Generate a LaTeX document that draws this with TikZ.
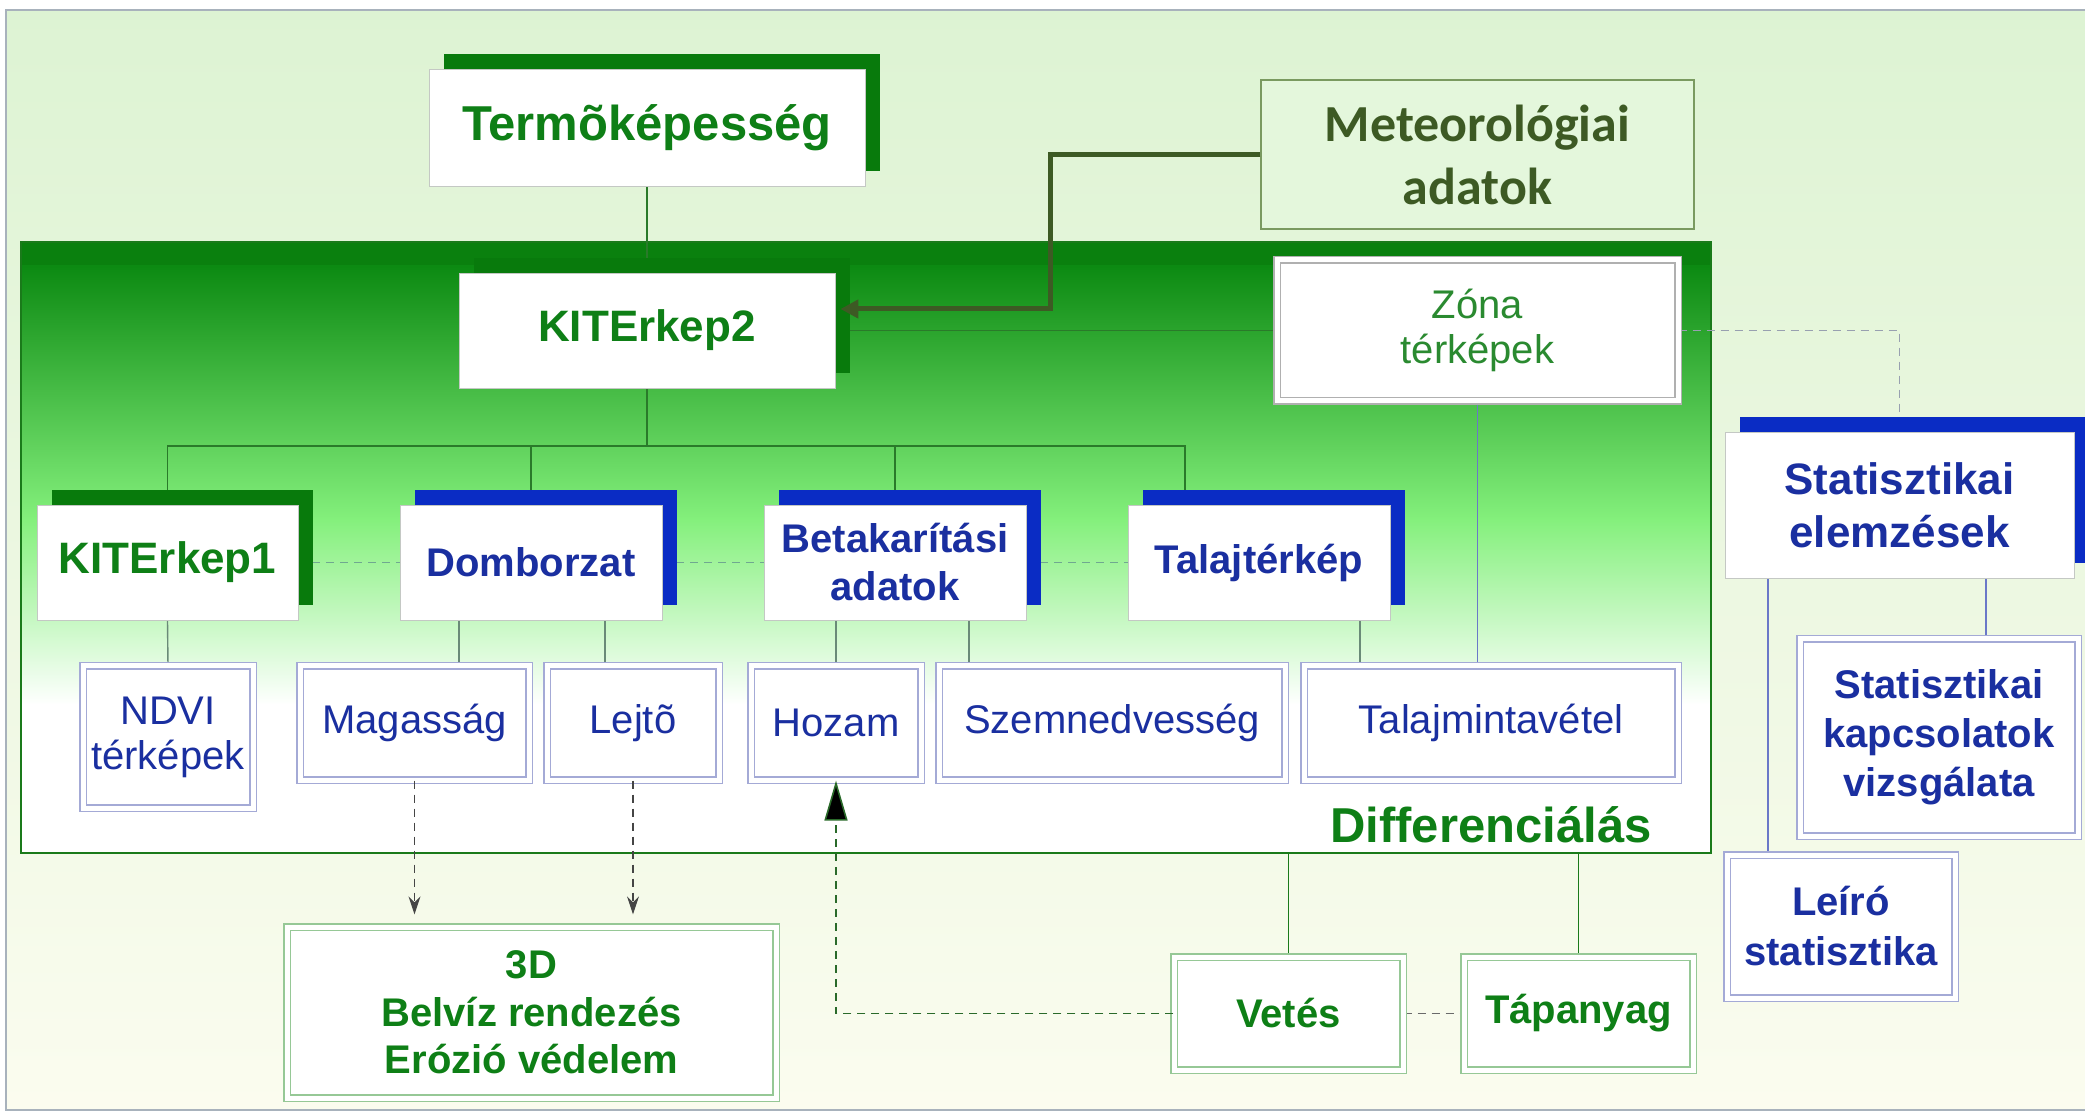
\documentclass[tikz,border=0pt]{standalone}
\usepackage{fontspec}
\setmainfont{Liberation Sans}
\newfontfamily\calfont{Carlito}
\usetikzlibrary{arrows.meta,shadows,calc}
\definecolor{tgreen}{HTML}{0E7F16}
\definecolor{tblue}{HTML}{1A2FA0}
\definecolor{shgreen}{HTML}{087A0C}
\definecolor{shblue}{HTML}{0A2CC4}
\definecolor{zgreen}{HTML}{2A8A30}
\definecolor{metcol}{HTML}{3D5A24}
\definecolor{metfill}{HTML}{E4F7DC}
\definecolor{metedge}{HTML}{7A9A60}
\definecolor{bgray}{HTML}{A4AAD6}
\definecolor{gbord}{HTML}{96C896}
\definecolor{grbord}{HTML}{B0B0B0}
\definecolor{bgtop}{HTML}{DDF3D3}
\definecolor{bgbot}{HTML}{FBFCEF}
\definecolor{frame}{HTML}{A8B2BC}
\definecolor{contedge}{HTML}{1A7A1A}
\definecolor{cdark}{HTML}{0A800E}
\definecolor{cmid}{HTML}{0C8A12}
\definecolor{clight}{HTML}{84F07C}
\definecolor{treecol}{HTML}{2A7A2A}
\definecolor{subcol}{HTML}{6A8A78}
\definecolor{bluecol}{HTML}{6A78C8}
\definecolor{sibcol}{HTML}{70A890}
\definecolor{dashgray}{HTML}{98A0B0}
\definecolor{arrgray}{HTML}{454545}
\definecolor{hozcol}{HTML}{2A6A2A}
\definecolor{boxedge}{HTML}{C4C8C4}
\pgfdeclarelayer{bg}
\pgfdeclarelayer{lines}
\pgfsetlayers{bg,lines,main}
\newcommand{\myfs}[2]{\fontsize{#1}{#2}\selectfont}
\begin{document}
\begin{tikzpicture}[x=0.5pt,y=-0.5pt,
  shbox/.style={rectangle, fill=white, draw=boxedge, line width=0.4pt, inner sep=0pt, align=center},
  gshadow/.style={drop shadow={shadow xshift=7.5pt, shadow yshift=7.5pt, fill=shgreen, opacity=1}},
  bshadow/.style={drop shadow={shadow xshift=7.5pt, shadow yshift=7.5pt, fill=shblue, opacity=1}},
  dblbox/.style={rectangle, fill=white, draw=#1, double=white, double distance=2.5pt, line width=0.6pt, inner sep=0pt, align=center},
  gbig/.style={text=tgreen, font=\bfseries\myfs{22}{26}},
  bbold/.style={text=tblue, font=\bfseries\myfs{20}{24}},
  breg/.style={text=tblue, font=\myfs{20}{22.5}},
  gbold/.style={text=tgreen, font=\bfseries\myfs{20}{23.75}},
  tree/.style={draw=treecol, line width=0.7pt},
  sub/.style={draw=subcol, line width=0.7pt},
  bluel/.style={draw=bluecol, line width=0.7pt},
  sibdash/.style={draw=sibcol, line width=0.7pt, dash pattern=on 4pt off 3pt},
  graydash/.style={draw=dashgray, line width=0.8pt, dash pattern=on 4pt off 3pt},
  contline/.style={draw=contedge, line width=0.8pt},
  metline/.style={draw=metcol, line width=2.5pt, -{Triangle[length=9pt,width=9pt]}},
  darrow/.style={draw=arrgray, line width=0.6pt, dash pattern=on 4pt off 3pt, -{Stealth[length=9pt,width=6pt]}},
  hozarrow/.style={draw=hozcol, line width=0.8pt, dash pattern=on 4pt off 3pt, -{Triangle[length=20pt,width=11.5pt,fill=black]}}
]
\useasboundingbox (0,0) rectangle (2085,1112);

\begin{pgfonlayer}{bg}
  \fill[white] (0,0) rectangle (2085,1112);
  \shade[top color=bgtop, bottom color=bgbot] (6,10) rectangle (2095,1110);
  \draw[frame, line width=0.8pt] (2095,10) -- (6,10) -- (6,1110) -- (2095,1110);
  \fill[cdark] (21,242) rectangle (1711,267);
  \shade[top color=cmid, bottom color=clight] (21,266) rectangle (1711,520);
  \shade[top color=clight, bottom color=white] (21,519) rectangle (1711,705);
  \fill[white] (21,704) rectangle (1711,853);
  \node[draw=contedge, line width=0.8pt, minimum width=845pt, minimum height=305.5pt, inner sep=0pt] (cont) at (866,547.5) {};
\end{pgfonlayer}

% nodes
\node[shbox, gshadow, text=tgreen, font=\bfseries\myfs{24.5}{29}, minimum width=218pt, minimum height=58.5pt] (termo) at (647,127.5) {Termõképesség};
\node[shbox, gshadow, gbig, minimum width=188pt, minimum height=57.5pt] (kit2) at (647,330.5) {KITErkep2};
\node[shbox, gshadow, gbig, minimum width=130.5pt, minimum height=57.5pt] (kit1) at (167.5,562.5) {KITErkep1};
\node[shbox, bshadow, bbold, minimum width=131pt, minimum height=57.5pt] (dom) at (531,562.5) {Domborzat};
\node[shbox, bshadow, bbold, minimum width=131pt, minimum height=57.5pt] (beta) at (895,562.5) {Betakarítási\\adatok};
\node[shbox, bshadow, bbold, minimum width=131pt, minimum height=57.5pt] (talaj) at (1259,562.5) {Talajtérkép};

\node[dblbox=bgray, breg, minimum width=85pt, minimum height=71pt] (ndvi) at (168,737) {NDVI\\térképek};
\node[dblbox=bgray, breg, minimum width=114.5pt, minimum height=57pt] (mag) at (414.5,723) {Magasság};
\node[dblbox=bgray, breg, minimum width=86pt, minimum height=57pt] (lejto) at (633,723) {Lejtõ};
\node[dblbox=bgray, breg, minimum width=85pt, minimum height=57pt] (hozam) at (836,723) {Hozam};
\node[dblbox=bgray, breg, minimum width=173pt, minimum height=57pt] (szem) at (1112,723) {Szemnedvesség};
\node[dblbox=bgray, breg, minimum width=187pt, minimum height=57pt] (talajm) at (1491,723) {Talajmintavétel};

\node[dblbox=grbord, text=zgreen, font=\myfs{20}{22.5}, minimum width=200.5pt, minimum height=70.5pt] (zona) at (1477.5,330.5) {Zóna\\térképek};
\node[rectangle, fill=metfill, draw=metedge, line width=0.6pt, inner sep=0pt, align=center, text=metcol, font=\calfont\bfseries\myfs{26}{31.5}, minimum width=216.5pt, minimum height=74.5pt] (meteor) at (1477.5,154.5) {Meteorológiai\\adatok};

\node[shbox, bshadow, text=tblue, font=\bfseries\myfs{22}{26.5}, minimum width=174.5pt, minimum height=73pt] (stat) at (1899.5,505) {Statisztikai\\elemzések};
\node[dblbox=bgray, bbold, font=\bfseries\myfs{20}{24.5}, minimum width=139pt, minimum height=98.5pt] (kapcs) at (1939,737.5) {Statisztikai\\kapcsolatok\\vizsgálata};
\node[dblbox=bgray, bbold, font=\bfseries\myfs{20}{25}, minimum width=114pt, minimum height=71.5pt] (leiro) at (1841,926.5) {Leíró\\statisztika};

\node[dblbox=gbord, gbold, minimum width=244.5pt, minimum height=85.5pt] (d3) at (531.5,1012.5) {3D\\Belvíz rendezés\\Erózió védelem};
\node[dblbox=gbord, gbold, minimum width=114.5pt, minimum height=56.5pt] (vetes) at (1288.5,1013.5) {Vetés};
\node[dblbox=gbord, gbold, minimum width=114.5pt, minimum height=56.5pt] (tap) at (1578.5,1013.5) {Tápanyag};

\node[text=tgreen, font=\bfseries\myfs{24.5}{29}, anchor=base, inner sep=0pt] (diff) at (1491,842) {Differenciálás};

% helper coordinates
\coordinate (bus) at (647,446);
\coordinate (tn) at ([xshift=-37pt]talaj.north);
\coordinate (d1) at ([xshift=-36pt]dom.south);
\coordinate (d2) at ([xshift=37pt]dom.south);
\coordinate (b2) at ([xshift=37pt]beta.south);
\coordinate (t1) at ([xshift=50.5pt]talaj.south);
\coordinate (s1) at ([xshift=-65.75pt]stat.south);
\coordinate (s2) at ([xshift=43.25pt]stat.south);
\coordinate (m1) at (mag.south |- d3.north);
\coordinate (l1) at (lejto.south |- d3.north);
\coordinate (mcorner) at (1050,309);
\coordinate (ktip) at ([xshift=2.5pt,yshift=10.75pt]kit2.east);

\begin{pgfonlayer}{lines}
  \draw[tree] (termo.south) -- (kit2.north);
  \draw[tree] (kit2.south) -- (bus);
  \draw[tree] (kit1.north) |- (bus) -| (tn);
  \draw[tree] (dom.north) -- (dom.north |- bus);
  \draw[tree] (beta.north) -- (beta.north |- bus);
  \draw[tree] (kit2.east) -- (zona.west);
  \draw[sub] (kit1.south) -- (ndvi.north);
  \draw[sub] (d1) -- (d1 |- mag.north);
  \draw[sub] (d2) -- (d2 |- lejto.north);
  \draw[sub] (hozam.north) -- (hozam.north |- beta.south);
  \draw[sub] (b2) -- (b2 |- szem.north);
  \draw[sub] (t1) -- (t1 |- talajm.north);
  \draw[bluel] (zona.south) -- (zona.south |- talajm.north);
  \draw[bluel] (s1) -- (s1 |- leiro.north);
  \draw[bluel] (s2) -- (s2 |- kapcs.north);
  \draw[sibdash] (kit1.east) -- (dom.west);
  \draw[sibdash] (dom.east) -- (beta.west);
  \draw[sibdash] (beta.east) -- (talaj.west);
  \draw[graydash] (zona.east) -| (stat.north);
  \draw[contline] (vetes.north |- cont.south) -- (vetes.north);
  \draw[contline] (tap.north |- cont.south) -- (tap.north);
  \draw[draw=arrgray!80, line width=0.6pt, dash pattern=on 4pt off 3pt] (vetes.east) -- (tap.west);
\end{pgfonlayer}

% arrows on top
\draw[metline] (meteor.west) -| (mcorner) -- (ktip);
\draw[darrow] (mag.south) -- ([yshift=6pt]m1);
\draw[darrow] (lejto.south) -- ([yshift=6pt]l1);
\draw[hozarrow] (vetes.west) -| (hozam.south);
\end{tikzpicture}
\end{document}
